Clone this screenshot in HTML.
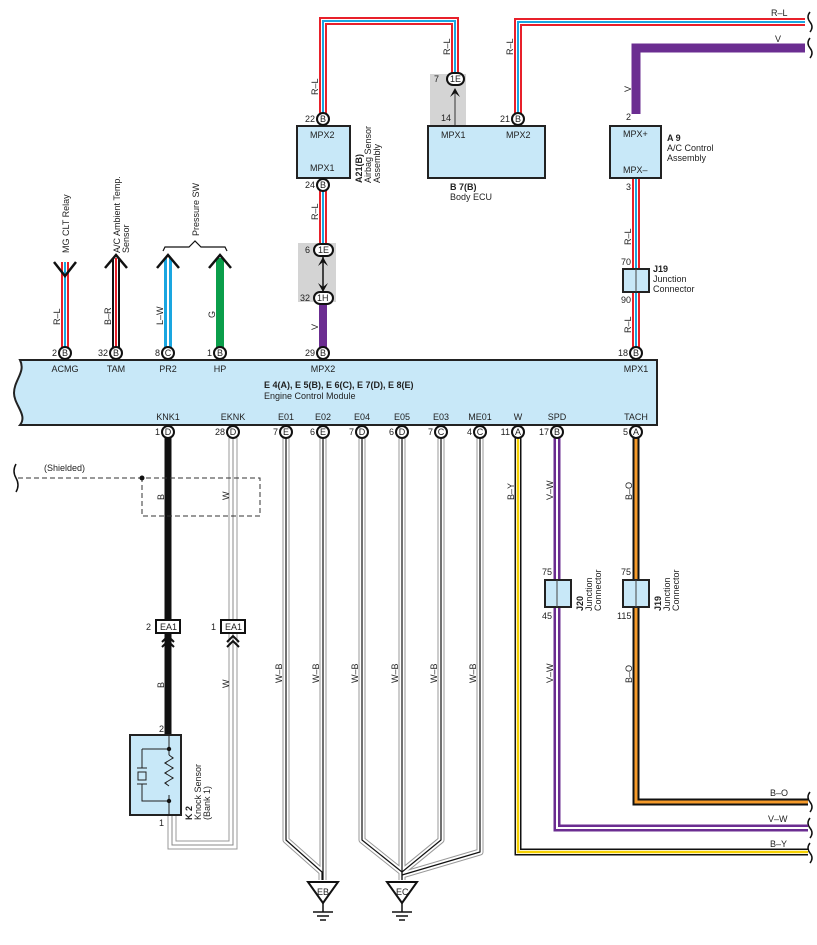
<!DOCTYPE html>
<html><head><meta charset="utf-8"><style>
html,body{margin:0;padding:0;background:#fff}
svg{display:block;font-family:"Liberation Sans",sans-serif}
text{font-size:9px;fill:#222}
.b{font-weight:bold}
</style></head><body>
<svg width="817" height="945" viewBox="0 0 817 945" xmlns="http://www.w3.org/2000/svg">
<defs>
<g id="rl"><!-- placeholder --></g>
</defs>

<!-- ===== R-L wires (red/white/blue) ===== -->
<g fill="none" stroke-linejoin="miter">
 <path d="M323,114 V21 H455 V74" stroke="#e8202a" stroke-width="8"/>
 <path d="M323,114 V21 H455 V74" stroke="#fff" stroke-width="4"/>
 <path d="M323,114 V21 H455 V74" stroke="#1aa6e0" stroke-width="2"/>
 <path d="M518,114 V22 H805" stroke="#e8202a" stroke-width="8"/>
 <path d="M518,114 V22 H805" stroke="#fff" stroke-width="4"/>
 <path d="M518,114 V22 H805" stroke="#1aa6e0" stroke-width="2"/>
 <path d="M323,190 V245" stroke="#e8202a" stroke-width="8"/>
 <path d="M323,190 V245" stroke="#fff" stroke-width="4"/>
 <path d="M323,190 V245" stroke="#1aa6e0" stroke-width="2"/>
 <path d="M636,178 V348" stroke="#e8202a" stroke-width="8"/>
 <path d="M636,178 V348" stroke="#fff" stroke-width="4"/>
 <path d="M636,178 V348" stroke="#1aa6e0" stroke-width="2"/>
 <!-- ACMG -->
 <path d="M65,262 V348" stroke="#e8202a" stroke-width="8"/>
 <path d="M65,262 V348" stroke="#fff" stroke-width="4"/>
 <path d="M65,262 V348" stroke="#1aa6e0" stroke-width="2"/>
 <!-- TAM B-R -->
 <path d="M116,258 V348" stroke="#111" stroke-width="8"/>
 <path d="M116,258 V348" stroke="#fff" stroke-width="4"/>
 <path d="M116,258 V348" stroke="#e8202a" stroke-width="2"/>
 <!-- PR2 L-W -->
 <path d="M168,258 V348" stroke="#1aa6e0" stroke-width="8"/>
 <path d="M168,258 V348" stroke="#fff" stroke-width="2"/>
 <!-- HP G -->
 <path d="M220,258 V348" stroke="#0a9e4a" stroke-width="8"/>
 <!-- V purple -->
 <path d="M323,302 V348" stroke="#6b2d91" stroke-width="8"/>
 <path d="M636,114 V48 H805" stroke="#6b2d91" stroke-width="9"/>
</g>

<!-- arrows top-left -->
<g fill="none" stroke="#111" stroke-width="2.5">
 <polyline points="54,262 65,276 76,262"/>
 <polyline points="105,268 116,255 127,268"/>
 <polyline points="157,268 168,255 179,268"/>
 <polyline points="209,268 220,255 231,268"/>
</g>
<path d="M163,251 L165,247 H189 L195,241 L201,247 H225 L227,251" fill="none" stroke="#111" stroke-width="1.2"/>
<text transform="translate(69,253) rotate(-90)">MG CLT Relay</text>
<text transform="translate(120,253) rotate(-90)">A/C Ambient Temp.</text>
<text transform="translate(129,253) rotate(-90)">Sensor</text>
<text transform="translate(199,236) rotate(-90)">Pressure SW</text>
<text transform="translate(60,325) rotate(-90)">R–L</text>
<text transform="translate(111,325) rotate(-90)">B–R</text>
<text transform="translate(163,325) rotate(-90)">L–W</text>
<text transform="translate(215,318) rotate(-90)">G</text>
<text transform="translate(318,95) rotate(-90)">R–L</text>
<text transform="translate(318,220) rotate(-90)">R–L</text>
<text transform="translate(318,330) rotate(-90)">V</text>
<text transform="translate(450,55) rotate(-90)">R–L</text>
<text transform="translate(513,55) rotate(-90)">R–L</text>
<text transform="translate(631,92) rotate(-90)">V</text>
<text transform="translate(631,245) rotate(-90)">R–L</text>
<text transform="translate(631,333) rotate(-90)">R–L</text>
<text x="771" y="16">R–L</text>
<text x="775" y="42">V</text>

<!-- wavy ends right -->
<g fill="none" stroke="#111" stroke-width="1.5">
 <path d="M810,12 q-4,5 0,10 q4,5 0,10"/>
 <path d="M810,38 q-4,5 0,10 q4,5 0,10"/>
 <path d="M810,792 q-4,5 0,10 q4,5 0,10"/>
 <path d="M810,818 q-4,5 0,10 q4,5 0,10"/>
 <path d="M810,843 q-4,5 0,10 q4,5 0,10"/>
 <path d="M16,464 q-4,7 0,14 q4,7 0,14"/>
</g>

<!-- gray connector boxes -->
<rect x="430" y="74" width="36" height="52" fill="#d4d4d4"/>
<rect x="298" y="243" width="38" height="59" fill="#d4d4d4"/>
<line x1="455" y1="126" x2="455" y2="90" stroke="#333" stroke-width="1"/>
<path d="M450,97 L455,88 L460,97 L455,93 Z" fill="#111"/>
<rect x="447" y="73" width="17" height="12" rx="6" fill="#fff" stroke="#111" stroke-width="2"/>
<text x="450" y="82">1E</text>
<text x="434" y="82">7</text>
<text x="441" y="121">14</text>
<line x1="323" y1="256" x2="323" y2="292" stroke="#111" stroke-width="1.5"/>
<path d="M318,266 L323,257 L328,266 L323,262 Z M318,283 L323,292 L328,283 L323,287 Z" fill="#111"/>
<rect x="314" y="244" width="19" height="12" rx="6" fill="#fff" stroke="#111" stroke-width="2"/>
<text x="318" y="253">1E</text>
<text x="305" y="253">6</text>
<rect x="314" y="292" width="19" height="12" rx="6" fill="#fff" stroke="#111" stroke-width="2"/>
<text x="317" y="301">1H</text>
<text x="300" y="301">32</text>

<!-- boxes -->
<rect x="297" y="126" width="53" height="52" fill="#c8e8f8" stroke="#222" stroke-width="2"/>
<text x="310" y="138">MPX2</text><text x="310" y="171">MPX1</text>
<text class="b" transform="translate(362,183) rotate(-90)">A21(B)</text>
<text transform="translate(371,183) rotate(-90)">Airbag Sensor</text>
<text transform="translate(380,183) rotate(-90)">Assembly</text>
<rect x="428" y="126" width="117" height="52" fill="#c8e8f8" stroke="#222" stroke-width="2"/>
<text x="441" y="138">MPX1</text><text x="506" y="138">MPX2</text>
<text class="b" x="450" y="190">B 7(B)</text><text x="450" y="200">Body ECU</text>
<rect x="610" y="126" width="51" height="52" fill="#c8e8f8" stroke="#222" stroke-width="2"/>
<text x="623" y="137">MPX+</text><text x="623" y="173">MPX–</text>
<text class="b" x="667" y="141">A 9</text><text x="667" y="151">A/C Control</text><text x="667" y="161">Assembly</text>
<text x="626" y="120">2</text><text x="626" y="190">3</text>
<rect x="623" y="269" width="26" height="23" fill="#c8e8f8" stroke="#222" stroke-width="2"/>
<line x1="636" y1="269" x2="636" y2="292" stroke="#444"/>
<text x="621" y="265">70</text><text x="621" y="303">90</text>
<text class="b" x="653" y="272">J19</text><text x="653" y="282">Junction</text><text x="653" y="292">Connector</text>

<!-- ECM -->
<path d="M20,360 H657 V425 H20 C28,415 14,405 14,393 C14,380 26,372 20,360 Z" fill="#c8e8f8" stroke="#222" stroke-width="2"/>
<g text-anchor="middle">
<text x="65" y="372">ACMG</text><text x="116" y="372">TAM</text><text x="168" y="372">PR2</text><text x="220" y="372">HP</text><text x="323" y="372">MPX2</text><text x="636" y="372">MPX1</text>
<text x="168" y="420">KNK1</text><text x="233" y="420">EKNK</text><text x="286" y="420">E01</text><text x="323" y="420">E02</text><text x="362" y="420">E04</text><text x="402" y="420">E05</text><text x="441" y="420">E03</text><text x="480" y="420">ME01</text><text x="518" y="420">W</text><text x="557" y="420">SPD</text><text x="636" y="420">TACH</text>
</g>
<text class="b" x="264" y="388">E 4(A), E 5(B), E 6(C), E 7(D), E 8(E)</text>
<text x="264" y="399">Engine Control Module</text>

<!-- bottom wires -->
<g fill="none">
 <!-- W-B grounds -->
 <g stroke="#999" stroke-width="7" stroke-linejoin="round">
  <path d="M286,438 V840 L322,872 V880"/><path d="M323,438 V880"/>
  <path d="M362,438 V840 L402,872 V880"/><path d="M402,438 V880"/>
  <path d="M441,438 V840 L402,872"/><path d="M480,438 V852 L402,875"/>
 </g>
 <g stroke="#fff" stroke-width="5" stroke-linejoin="round">
  <path d="M286,438 V840 L322,872 V880"/><path d="M323,438 V880"/>
  <path d="M362,438 V840 L402,872 V880"/><path d="M402,438 V880"/>
  <path d="M441,438 V840 L402,872"/><path d="M480,438 V852 L402,875"/>
 </g>
 <g stroke="#111" stroke-width="1.2" stroke-linejoin="round">
  <path d="M286,438 V840 L322,872 V880"/><path d="M323,438 V880"/>
  <path d="M362,438 V840 L402,872 V880"/><path d="M402,438 V880"/>
  <path d="M441,438 V840 L402,872"/><path d="M480,438 V852 L402,875"/>
 </g>
 <!-- B-Y -->
 <path d="M518,438 V852 H808" stroke="#111" stroke-width="7"/>
 <path d="M518,438 V852 H808" stroke="#fff" stroke-width="4"/>
 <path d="M518,438 V852 H808" stroke="#f5d000" stroke-width="2.5"/>
 <!-- V-W -->
 <path d="M557,438 V828 H808" stroke="#6b2d91" stroke-width="7"/>
 <path d="M557,438 V828 H808" stroke="#fff" stroke-width="2"/>
 <!-- B-O -->
 <path d="M636,438 V802 H808" stroke="#111" stroke-width="7"/>
 <path d="M636,438 V802 H808" stroke="#f59a2a" stroke-width="3"/>
 <!-- KNK black -->
 <path d="M168,438 V735" stroke="#111" stroke-width="7"/>
 <!-- EKNK gray double -->
 <path d="M233,438 V845 H172 V815" stroke="#999" stroke-width="9"/>
 <path d="M233,438 V845 H172 V815" stroke="#fff" stroke-width="7"/>
 <path d="M233,438 V845 H172 V815" stroke="#888" stroke-width="1"/>
</g>
<g transform="rotate(-90)">
<text x="-500" y="514">B–Y</text><text x="-500" y="553">V–W</text><text x="-500" y="632">B–O</text>
<text x="-683" y="553">V–W</text><text x="-683" y="632">B–O</text>
<text x="-683" y="282">W–B</text><text x="-683" y="319">W–B</text><text x="-683" y="358">W–B</text><text x="-683" y="398">W–B</text><text x="-683" y="437">W–B</text><text x="-683" y="476">W–B</text>
<text x="-500" y="164">B</text><text x="-500" y="229">W</text><text x="-688" y="164">B</text><text x="-688" y="229">W</text>
</g>
<text x="770" y="796">B–O</text><text x="768" y="822">V–W</text><text x="770" y="847">B–Y</text>

<!-- shield -->
<path d="M18,478 H260 V516 H142 V478" fill="none" stroke="#333" stroke-width="1" stroke-dasharray="5,3"/>
<circle cx="142" cy="478" r="2.5" fill="#111"/>
<text x="44" y="471">(Shielded)</text>

<!-- EA1 -->
<rect x="156" y="620" width="24" height="13" fill="#fff" stroke="#111" stroke-width="2"/>
<text x="160" y="630">EA1</text><text x="146" y="630">2</text>
<rect x="221" y="620" width="24" height="13" fill="#fff" stroke="#111" stroke-width="2"/>
<text x="225" y="630">EA1</text><text x="211" y="630">1</text>
<g fill="none" stroke="#111" stroke-width="2">
 <polyline points="162,642 168,636 174,642"/><polyline points="162,647 168,641 174,647"/>
 <polyline points="227,642 233,636 239,642"/><polyline points="227,647 233,641 239,647"/>
</g>

<!-- knock sensor -->
<rect x="130" y="735" width="51" height="80" fill="#c8e8f8" stroke="#222" stroke-width="2"/>
<g fill="none" stroke="#222" stroke-width="1">
 <path d="M142,749 H169 M142,749 V768 M137,768 H147 M138,772 H146 V780 H138 Z M137,784 H147 M142,784 V801 H169 M169,736 V815"/>
 <path d="M169,755 l4,3 -8,5 8,5 -8,5 8,5 -8,5 4,3"/>
</g>
<rect x="167" y="755" width="5" height="40" fill="#c8e8f8"/>
<path d="M169,755 l4,3 -8,5 8,5 -8,5 8,5 -8,5 4,3" fill="none" stroke="#222"/>
<circle cx="169" cy="749" r="2.2" fill="#111"/><circle cx="169" cy="801" r="2.2" fill="#111"/>
<text x="159" y="732">2</text><text x="159" y="826">1</text>
<text class="b" transform="translate(192,820) rotate(-90)">K 2</text>
<text transform="translate(201,820) rotate(-90)">Knock Sensor</text>
<text transform="translate(210,820) rotate(-90)">(Bank 1)</text>

<!-- junction connectors bottom -->
<rect x="545" y="580" width="26" height="27" fill="#c8e8f8" stroke="#222" stroke-width="2"/>
<line x1="557" y1="580" x2="557" y2="607" stroke="#444"/>
<text x="542" y="575">75</text><text x="542" y="619">45</text>
<text class="b" transform="translate(583,611) rotate(-90)">J20</text>
<text transform="translate(592,611) rotate(-90)">Junction</text>
<text transform="translate(601,611) rotate(-90)">Connector</text>
<rect x="623" y="580" width="26" height="27" fill="#c8e8f8" stroke="#222" stroke-width="2"/>
<line x1="636" y1="580" x2="636" y2="607" stroke="#444"/>
<text x="621" y="575">75</text><text x="617" y="619">115</text>
<text class="b" transform="translate(661,611) rotate(-90)">J19</text>
<text transform="translate(670,611) rotate(-90)">Junction</text>
<text transform="translate(679,611) rotate(-90)">Connector</text>

<!-- grounds -->
<g fill="#fff" stroke="#111" stroke-width="2">
 <path d="M308,882 H338 L323,903 Z"/><path d="M387,882 H417 L402,903 Z"/>
</g>
<g stroke="#111" stroke-width="1.5">
 <line x1="323" y1="903" x2="323" y2="912"/><line x1="313" y1="912" x2="333" y2="912"/><line x1="317" y1="916" x2="329" y2="916"/><line x1="320" y1="920" x2="326" y2="920"/>
 <line x1="402" y1="903" x2="402" y2="912"/><line x1="392" y1="912" x2="412" y2="912"/><line x1="396" y1="916" x2="408" y2="916"/><line x1="399" y1="920" x2="405" y2="920"/>
</g>
<text x="317" y="895">EB</text><text x="396" y="895">EC</text>

<!-- pin circles -->
<g fill="#fff" stroke="#111" stroke-width="2">
 <circle cx="323" cy="119" r="6"/><circle cx="323" cy="185" r="6"/><circle cx="518" cy="119" r="6"/>
 <circle cx="65" cy="353" r="6"/><circle cx="116" cy="353" r="6"/><circle cx="168" cy="353" r="6"/><circle cx="220" cy="353" r="6"/><circle cx="323" cy="353" r="6"/><circle cx="636" cy="353" r="6"/>
 <circle cx="168" cy="432" r="6"/><circle cx="233" cy="432" r="6"/><circle cx="286" cy="432" r="6"/><circle cx="323" cy="432" r="6"/><circle cx="362" cy="432" r="6"/><circle cx="402" cy="432" r="6"/><circle cx="441" cy="432" r="6"/><circle cx="480" cy="432" r="6"/><circle cx="518" cy="432" r="6"/><circle cx="557" cy="432" r="6"/><circle cx="636" cy="432" r="6"/>
</g>
<g text-anchor="middle" font-size="8">
 <text x="323" y="122">B</text><text x="323" y="188">B</text><text x="518" y="122">B</text>
 <text x="65" y="356">B</text><text x="116" y="356">B</text><text x="168" y="356">C</text><text x="220" y="356">B</text><text x="323" y="356">B</text><text x="636" y="356">B</text>
 <text x="168" y="435">D</text><text x="233" y="435">D</text><text x="286" y="435">E</text><text x="323" y="435">E</text><text x="362" y="435">D</text><text x="402" y="435">D</text><text x="441" y="435">C</text><text x="480" y="435">C</text><text x="518" y="435">A</text><text x="557" y="435">B</text><text x="636" y="435">A</text>
</g>
<g text-anchor="end">
 <text x="315" y="122">22</text><text x="315" y="188">24</text><text x="510" y="122">21</text>
 <text x="57" y="356">2</text><text x="108" y="356">32</text><text x="160" y="356">8</text><text x="212" y="356">1</text><text x="315" y="356">29</text><text x="628" y="356">18</text>
 <text x="160" y="435">1</text><text x="225" y="435">28</text><text x="278" y="435">7</text><text x="315" y="435">6</text><text x="354" y="435">7</text><text x="394" y="435">6</text><text x="433" y="435">7</text><text x="472" y="435">4</text><text x="510" y="435">11</text><text x="549" y="435">17</text><text x="628" y="435">5</text>
</g>
</svg>
</body></html>
